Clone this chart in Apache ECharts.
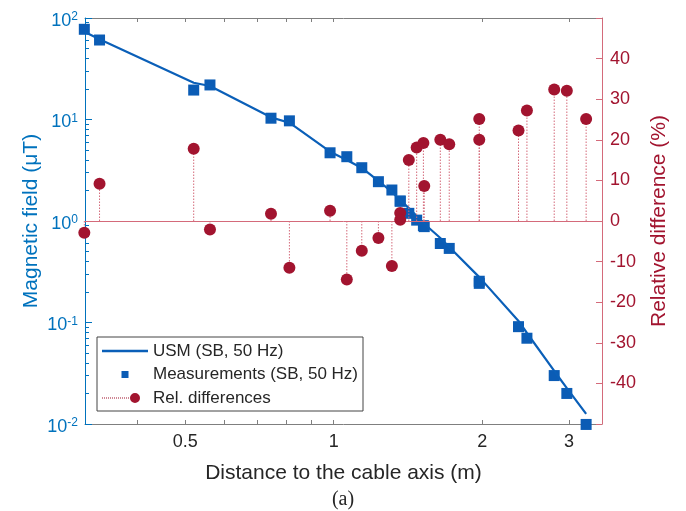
<!DOCTYPE html>
<html>
<head>
<meta charset="utf-8">
<script src="https://cdn.jsdelivr.net/npm/echarts@6/dist/echarts.min.js"></script>
<style>
  html, body { margin: 0; padding: 0; background: #fff; }
  #chart { width: 686px; height: 511px; }
</style>
</head>
<body>
<div id="chart"></div>
<script>
// measurements (distance in m, field in uT, relative difference in %)
const measX = [0.312, 0.335, 0.520, 0.561, 0.746, 0.813, 0.983, 1.063, 1.140, 1.232, 1.312, 1.364, 1.364,
  1.420, 1.473, 1.520, 1.526, 1.645, 1.715, 1.973, 1.973, 2.370, 2.465, 2.800, 2.970, 3.250];
const measB = [77.4, 60.7, 19.5, 21.9, 10.3, 9.7, 4.7, 4.3, 3.35, 2.44, 2.02, 1.57, 1.57,
  1.19, 1.02, 0.90, 0.88, 0.60, 0.537, 0.243, 0.255, 0.091, 0.070, 0.030, 0.020, 0.0099];
const relDiff = [-2.9, 9.2, 17.8, -2.1, 1.8, -11.5, 2.5, -14.4, -7.3, -4.2, -11.1, 2.0, 0.3,
  15.0, 18.1, 19.2, 8.6, 20.0, 18.9, 25.1, 20.0, 22.3, 27.2, 32.4, 32.1, 25.1];

// USM model curve
const usmX = [0.312, 0.335, 0.520, 0.561, 0.746, 0.813, 0.983, 1.063, 1.140, 1.232, 1.312, 1.364,
  1.420, 1.473, 1.520, 1.645, 1.715, 1.973, 2.370, 2.465, 2.800, 2.970, 3.250];
const usmB = [73.3, 61.7, 23.0, 21.4, 10.5, 9.3, 4.82, 3.99, 3.33, 2.48, 1.93, 1.61,
  1.34, 1.12, 0.955, 0.68, 0.555, 0.28, 0.1035, 0.0788, 0.0333, 0.0226, 0.01256];

// axis ticks
const xTickLabels = [0.5, 1, 2, 3];
const xTicks = [0.4, 0.5, 0.6, 0.7, 0.8, 0.9, 1, 2, 3];
const yMajor = [0.01, 0.1, 1, 10, 100];
const yMinor = [];
for (const d of [0.01, 0.1, 1, 10]) {
  for (let k = 2; k <= 9; k++) yMinor.push(+(d * k).toPrecision(3));
}

const blue = '#0072bd';
const lineBlue = '#0a5fb8';
const red = '#a2142f';
const pink = '#d46a7a';
const gray = '#7f7f7f';
const textDark = '#262626';
const xMin = 0.313, xMax = 3.5;

// legend icons: invisible corner anchors keep the path box equal to the item box
const anchors = 'M0,0h0.05v0.05h-0.05z M45.95,13.95h0.05v0.05h-0.05z ';
const lineIcon = 'path://' + anchors + 'M0,5.8h46v2.4h-46z';
const squareIcon = 'path://' + anchors + 'M19.5,3.5h7v7h-7z';
let dots = '';
for (let i = 0; i < 14; i++) dots += 'M' + (i * 2) + ',6.6h1v0.8h-1z ';
const stemIcon = 'path://' + anchors + dots + 'M28,7a5,5 0 1,0 10,0a5,5 0 1,0 -10,0z';

const chart = echarts.init(document.getElementById('chart'));
chart.setOption({
  animation: false,
  textStyle: { fontFamily: 'Liberation Sans, Arial, sans-serif' },
  title: {
    text: '(a)',
    left: 'center',
    top: 485,
    textStyle: { fontFamily: 'Liberation Serif, serif', fontSize: 20, fontWeight: 'normal', color: textDark }
  },
  grid: { left: 85, top: 18, width: 517, height: 406 },
  legend: {
    orient: 'vertical',
    left: 97,
    top: 337,
    padding: [4, 5, 3, 5],
    itemWidth: 46,
    itemHeight: 14,
    itemGap: 3.5,
    backgroundColor: '#fff',
    borderColor: '#444',
    borderWidth: 1,
    textStyle: { fontSize: 17, lineHeight: 20, color: textDark },
    data: [
      { name: 'USM (SB, 50 Hz)', icon: lineIcon },
      { name: 'Measurements (SB, 50 Hz)', icon: squareIcon },
      { name: 'Rel. differences', icon: stemIcon }
    ]
  },
  xAxis: [
    {
      type: 'log',
      min: xMin,
      max: xMax,
      position: 'bottom',
      name: 'Distance to the cable axis (m)',
      nameLocation: 'middle',
      nameGap: 39,
      nameMoveOverlap: false,
      nameTextStyle: { fontSize: 21, color: textDark },
      axisLine: { onZero: false, lineStyle: { color: gray } },
      axisTick: { inside: true, length: 4, customValues: xTicks, lineStyle: { color: gray } },
      axisLabel: { customValues: xTickLabels, formatter: (v) => String(+v.toPrecision(3)), fontSize: 18, color: textDark, margin: 9 },
      splitLine: { show: false }
    },
    {
      type: 'log',
      min: xMin,
      max: xMax,
      position: 'top',
      axisLine: { onZero: false, lineStyle: { color: gray } },
      axisTick: { inside: true, length: 4, customValues: xTicks, lineStyle: { color: gray } },
      axisLabel: { show: false },
      splitLine: { show: false }
    }
  ],
  yAxis: [
    {
      type: 'log',
      min: 0.01,
      max: 100,
      position: 'left',
      name: 'Magnetic field (\u03bcT)',
      nameLocation: 'middle',
      nameRotate: 90,
      nameGap: 43,
      nameMoveOverlap: false,
      nameTextStyle: { fontSize: 21, color: blue },
      axisLine: { lineStyle: { color: blue } },
      axisTick: { inside: true, length: 7, customValues: yMajor, lineStyle: { color: blue } },
      axisLabel: {
        customValues: yMajor,
        margin: 7,
        padding: [6, 0, 0, 0],
        formatter: (v) => '{b|10}{s|' + Math.round(Math.log10(v)) + '}',
        rich: {
          b: { fontSize: 18, lineHeight: 20, color: blue },
          s: { fontSize: 12, lineHeight: 12, verticalAlign: 'top', color: blue }
        }
      },
      splitLine: { show: false }
    },
    {
      type: 'value',
      min: -50,
      max: 50,
      interval: 10,
      position: 'right',
      name: 'Relative difference (%)',
      nameLocation: 'middle',
      nameRotate: 90,
      nameGap: 47,
      nameMoveOverlap: false,
      nameTextStyle: { fontSize: 21, color: red },
      axisLine: { show: true, onZero: false, lineStyle: { color: pink } },
      axisTick: { inside: true, length: 6, lineStyle: { color: pink } },
      axisLabel: { fontSize: 18, color: red, margin: 8, formatter: (v) => (Math.abs(v) >= 50 ? '' : String(v)) },
      splitLine: { show: false }
    },
    {
      // minor ticks of the log axis
      type: 'log',
      min: 0.01,
      max: 100,
      position: 'left',
      axisLine: { show: false },
      axisTick: { inside: true, length: 4, customValues: yMinor, lineStyle: { color: blue } },
      axisLabel: { show: false },
      splitLine: { show: false }
    }
  ],
  series: [
    {
      name: 'Measurements (SB, 50 Hz)',
      type: 'scatter',
      xAxisIndex: 0,
      yAxisIndex: 0,
      clip: false,
      symbol: 'rect',
      symbolSize: 11,
      itemStyle: { color: '#0b5cb5', opacity: 1 },
      data: measX.map((x, i) => [x, measB[i]]),
      z: 2
    },
    {
      name: 'USM (SB, 50 Hz)',
      type: 'line',
      xAxisIndex: 0,
      yAxisIndex: 0,
      clip: false,
      symbol: 'none',
      lineStyle: { width: 2.2, color: lineBlue },
      itemStyle: { color: lineBlue },
      data: usmX.map((x, i) => [x, usmB[i]]),
      z: 3
    },
    {
      name: 'stems',
      type: 'custom',
      xAxisIndex: 0,
      yAxisIndex: 1,
      clip: false,
      silent: true,
      data: measX.map((x, i) => [x, relDiff[i]]),
      renderItem: function (params, api) {
        const p0 = api.coord([api.value(0), 0]);
        const p1 = api.coord([api.value(0), api.value(1)]);
        return {
          type: 'line',
          shape: { x1: p0[0], y1: p0[1], x2: p1[0], y2: p1[1] },
          style: { stroke: pink, lineWidth: 1, lineDash: [1.5, 1.5] }
        };
      },
      z: 4
    },
    {
      name: 'Rel. differences',
      type: 'scatter',
      xAxisIndex: 0,
      yAxisIndex: 1,
      clip: false,
      symbol: 'circle',
      symbolSize: 12,
      itemStyle: { color: red, opacity: 1 },
      data: measX.map((x, i) => [x, relDiff[i]]),
      markLine: {
        silent: true,
        symbol: 'none',
        label: { show: false },
        lineStyle: { color: pink, width: 1, type: 'solid' },
        data: [{ yAxis: 0 }]
      },
      z: 5
    }
  ]
});
</script>
</body>
</html>
